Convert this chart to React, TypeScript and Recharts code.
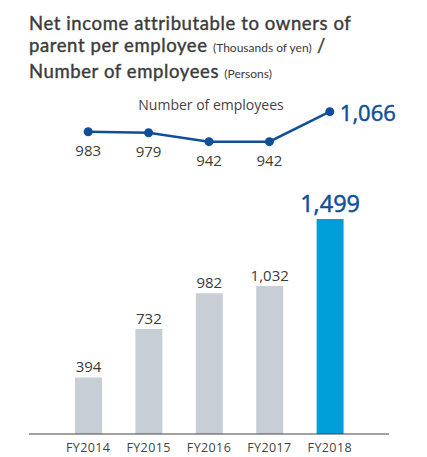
import React from "react";
import { ComposedChart, Bar, Line, XAxis, YAxis, Cell, LabelList } from "recharts";

const years = ["FY2014", "FY2015", "FY2016", "FY2017", "FY2018"];
const incomePerEmployee = [394, 732, 982, 1032, 1499];
const employees = [983, 979, 942, 942, 1066];

const data = years.map((y, i) => ({ year: y, income: incomePerEmployee[i], emp: employees[i] }));

const FONT = "'Open Sans', sans-serif";
const TITLE_FONT = "Lato, 'Open Sans', sans-serif";
const DARK_BLUE = "#0f4f98";
const TEXT = "#3b3b3b";

const BarLabel = (props: any) => {
  const { x, y, width, value, index } = props;
  const last = index === years.length - 1;
  return (
    <text
      x={x + width / 2}
      y={last ? y - 16 : y - 11}
      textAnchor="middle"
      dominantBaseline="central"
      fontFamily={FONT}
      fontSize={last ? 23.5 : 15}
      fill={last ? DARK_BLUE : TEXT}
      stroke={last ? DARK_BLUE : "none"}
      strokeWidth={last ? 0.5 : 0}
    >
      {value.toLocaleString("en-US")}
    </text>
  );
};

const LineLabel = (props: any) => {
  const { x, y, value, index } = props;
  const last = index === years.length - 1;
  if (last) {
    return (
      <text x={x + 10} y={y} dominantBaseline="central" fontFamily={FONT} fontSize={22} fill={DARK_BLUE} stroke={DARK_BLUE} strokeWidth={0.5}>
        {value.toLocaleString("en-US")}
      </text>
    );
  }
  return (
    <text x={x} y={y + 18} textAnchor="middle" dominantBaseline="central" fontFamily={FONT} fontSize={15} fill={TEXT}>
      {value.toLocaleString("en-US")}
    </text>
  );
};

export default function App() {
  return (
    <div style={{ position: "absolute", left: 0, top: 0, width: 427, height: 457, background: "#fff", fontFamily: FONT }}>
      <div
        style={{
          position: "absolute",
          left: 29,
          top: 12,
          color: TEXT,
          fontFamily: TITLE_FONT,
          fontSize: 18.5,
          lineHeight: "22.4px",
          fontWeight: 400,
          letterSpacing: "0.6px",
          WebkitTextStroke: "0.4px #3b3b3b",
          whiteSpace: "nowrap",
        }}
      >
        <div>Net income attributable to owners of</div>
        <div>
          parent per employee <span style={{ fontSize: 12, letterSpacing: 0, WebkitTextStroke: "0px" }}>(Thousands of yen)</span> /
        </div>
        <div>
          Number of employees <span style={{ fontSize: 12, letterSpacing: 0, WebkitTextStroke: "0px" }}>(Persons)</span>
        </div>
      </div>
      <div style={{ position: "absolute", left: 0, top: 95, width: 427 }}>
        <span style={{ position: "absolute", left: 211, transform: "translateX(-50%)", fontSize: 14, color: "#444", whiteSpace: "nowrap" }}>
          Number of employees
        </span>
      </div>
      <div style={{ position: "absolute", left: 0, top: 0 }}>
        <ComposedChart width={427} height={457} data={data} margin={{ top: 100, right: 38, left: 29, bottom: 0 }}>
          <XAxis
            dataKey="year"
            height={23}
            padding={{ left: 29, right: 29 }}
            tickLine={false}
            tickSize={0}
            tickMargin={9}
            axisLine={{ stroke: "#444", strokeWidth: 1 }}
            tick={{ fontFamily: FONT, fontSize: 12.5, fill: "#444", letterSpacing: 0.4 }}
            interval={0}
          />
          <YAxis yAxisId="bar" hide domain={[0, 2328.6]} />
          <YAxis yAxisId="line" hide domain={[-266.2, 1114.3]} />
          <Bar yAxisId="bar" dataKey="income" barSize={27} isAnimationActive={false}>
            {data.map((d, i) => (
              <Cell key={d.year} fill={i === years.length - 1 ? "#009fda" : "#c7ced5"} />
            ))}
            <LabelList dataKey="income" content={BarLabel} />
          </Bar>
          <Line
            yAxisId="line"
            dataKey="emp"
            stroke={DARK_BLUE}
            strokeWidth={2.5}
            dot={{ r: 4.5, fill: DARK_BLUE, stroke: DARK_BLUE, strokeWidth: 0 }}
            isAnimationActive={false}
          >
            <LabelList dataKey="emp" content={LineLabel} />
          </Line>
        </ComposedChart>
      </div>
    </div>
  );
}
